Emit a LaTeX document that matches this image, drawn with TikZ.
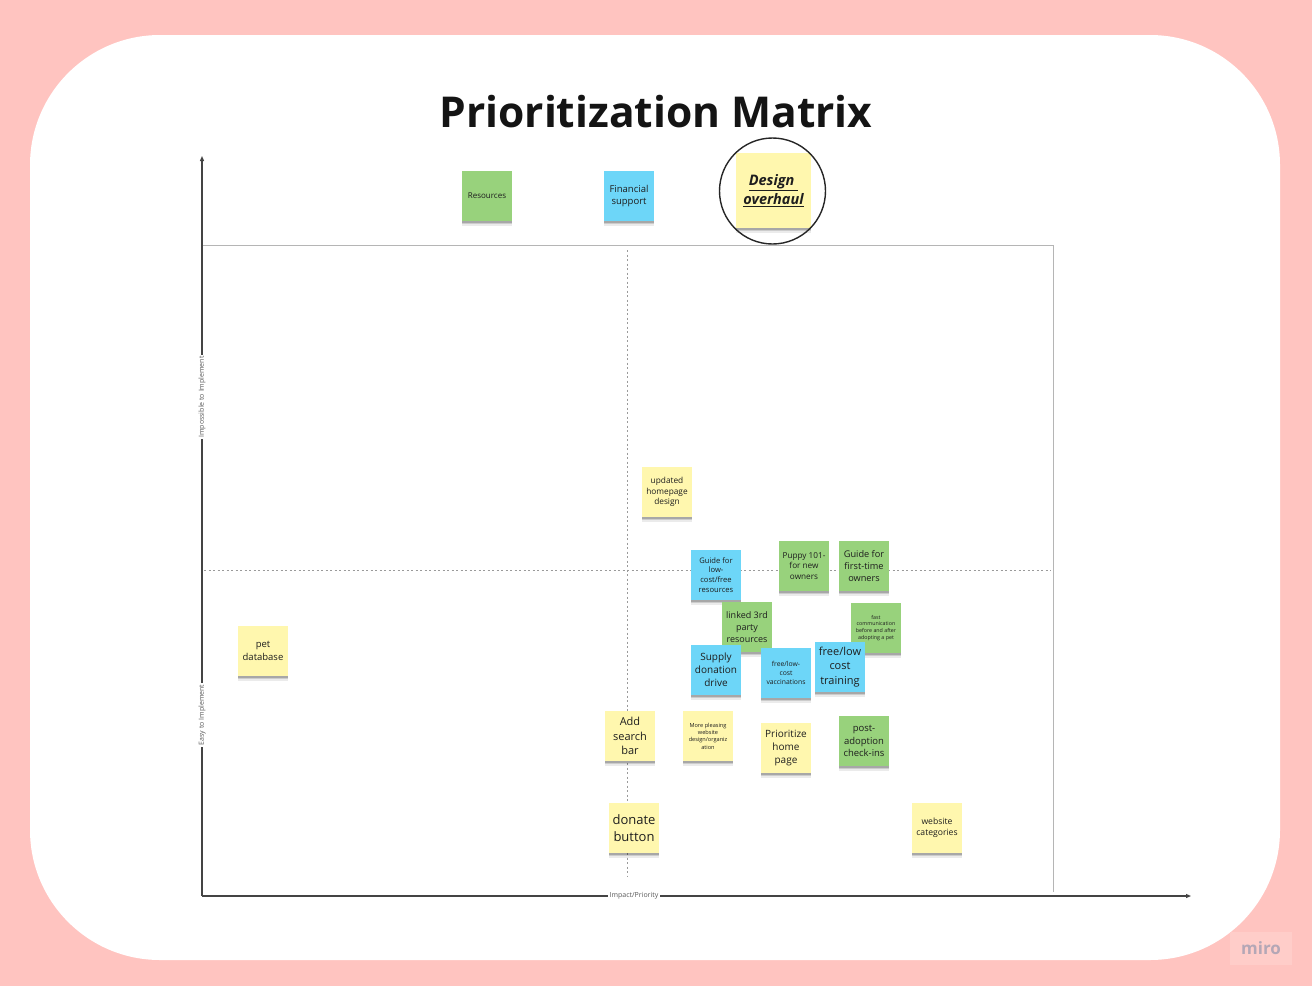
\documentclass[tikz,border=0pt]{standalone}
\usepackage{fontspec}
\setmainfont{Open Sans}
\usetikzlibrary{shadows,arrows.meta}
\definecolor{bgpink}{HTML}{FFC4C0}
\definecolor{stY}{HTML}{FFF7AE}
\definecolor{stG}{HTML}{98D27C}
\definecolor{stB}{HTML}{6DD6F8}
\definecolor{axis}{HTML}{444444}
\definecolor{boxg}{HTML}{B5B5B5}
\definecolor{dashg}{HTML}{9A9A9A}
\definecolor{txt}{HTML}{1E1E1E}
\definecolor{mirobox}{HTML}{FFCDC9}
\definecolor{mirotxt}{HTML}{B4A7B6}
\newcommand{\fsz}[1]{\fontsize{#1}{1.3\dimexpr #1pt\relax}\selectfont}
\tikzset{
  sticky/.style={minimum width=50pt, minimum height=50pt, inner sep=0pt, align=center, text=txt,
    drop shadow={shadow xshift=0pt, shadow yshift=-4.5pt, opacity=0.08, fill=black},
    drop shadow={shadow xshift=0pt, shadow yshift=-3pt, opacity=0.13, fill=black},
    drop shadow={shadow xshift=0pt, shadow yshift=-1.6pt, opacity=0.18, fill=black}},
  yel/.style={sticky, fill=stY},
  grn/.style={sticky, fill=stG},
  blu/.style={sticky, fill=stB},
  axisline/.style={draw=axis, line width=1.1pt},
  axlabel/.style={fill=white, inner sep=1.5pt, text=black!65, font=\fsz{7}},
  boxline/.style={draw=boxg, line width=1pt},
  dashline/.style={draw=dashg, line width=0.7pt, dash pattern=on 2pt off 2.5pt}
}
\begin{document}
\begin{tikzpicture}[x=1pt,y=-1pt]
\useasboundingbox (0,0) rectangle (1312,986);
\fill[bgpink] (0,0) rectangle (1312,986);
\fill[white, rounded corners=130pt] (30,35) rectangle (1280,960);
% miro logo
\node[fill=mirobox, minimum width=62pt, minimum height=33pt, inner sep=0pt, text=mirotxt, font=\fsz{17}\bfseries] (miro) at (1261,948) {miro};
% title
\node[font=\fsz{42.5}\bfseries, text=black!92] (title) at (656,112) {Prioritization Matrix};
% box and dashed lines
\coordinate (tl) at (202,245);
\coordinate (tr) at (1053,245);
\coordinate (br) at (1053,892);
\draw[boxline] (tl) -- (tr) -- (br);
\coordinate (dvt) at (627,250);
\coordinate (dvb) at (627,876);
\coordinate (dhl) at (204,570);
\coordinate (dhr) at (1051,570);
\draw[dashline] (dvt) -- (dvb);
\draw[dashline] (dhl) -- (dhr);
% axes
\coordinate (origin) at (202,896);
\coordinate (ytop) at (202,156);
\coordinate (xend) at (1191,896);
\draw[axisline, -{Triangle[length=5pt,width=4pt]}] (origin) -- (ytop);
\draw[axisline, -{Triangle[length=5pt,width=4pt]}] (origin) -- (xend);
\node[axlabel, rotate=90] (lblimp) at (202,397) {Impossible to Implement};
\node[axlabel, rotate=90] (lbleasy) at (202,715) {Easy to Implement};
\node[axlabel] (lblx) at (634,896) {Impact/Priority};
% top stickies
\node[grn, font=\fsz{8}] (res) at (487,196) {Resources};
\node[blu, font=\fsz{9.5}] (fin) at (629,196) {Financial\\support};
\node[yel, minimum width=75pt, minimum height=75pt, font=\fontsize{14.5}{19.5}\selectfont\bfseries\itshape] (design) at (773.5,190.5) {\underline{Design\ }\\\underline{overhaul}};
\draw[black!85, line width=1.4pt] (772.5,191) circle (53pt);
% middle cluster
\node[yel, font=\fsz{8.3}] (upd) at (667,492) {updated\\homepage\\design};
\node[blu, font=\fsz{7.6}] (guidelow) at (716,575) {Guide for\\low-\\cost/free\\resources};
\node[grn, font=\fsz{8.2}] (puppy) at (804,566) {Puppy 101-\\for new\\owners};
\node[grn, font=\fsz{9.2}] (guidefirst) at (864,566) {Guide for\\first-time\\owners};
\node[grn, font=\fsz{9}] (linked) at (747,627) {linked 3rd\\party\\resources};
\node[grn, font=\fsz{5.3}] (fast) at (876,628) {fast\\communication\\before and after\\adopting a pet};
\node[blu, font=\fsz{10}] (supply) at (716,670) {Supply\\donation\\drive};
\node[blu, font=\fsz{6.8}] (vacc) at (786,673) {free/low-\\cost\\vaccinations};
\node[blu, font=\fsz{11}] (train) at (840,667) {free/low\\cost\\training};
% lower stickies
\node[yel, font=\fsz{9.5}] (pet) at (263,651) {pet\\database};
\node[yel, font=\fsz{11}] (search) at (630,736) {Add\\search\\bar};
\node[yel, font=\fsz{5.6}] (pleasing) at (708,736) {More pleasing\\website\\design/organiz\\ation};
\node[yel, font=\fsz{10}] (prior) at (786,748) {Prioritize\\home\\page};
\node[grn, font=\fsz{9.5}] (post) at (864,741) {post-\\adoption\\check-ins};
\node[yel, font=\fsz{13}] (donate) at (634,828) {donate\\button};
\node[yel, font=\fsz{8.6}] (webcat) at (937,828) {website\\categories};
\end{tikzpicture}
\end{document}
